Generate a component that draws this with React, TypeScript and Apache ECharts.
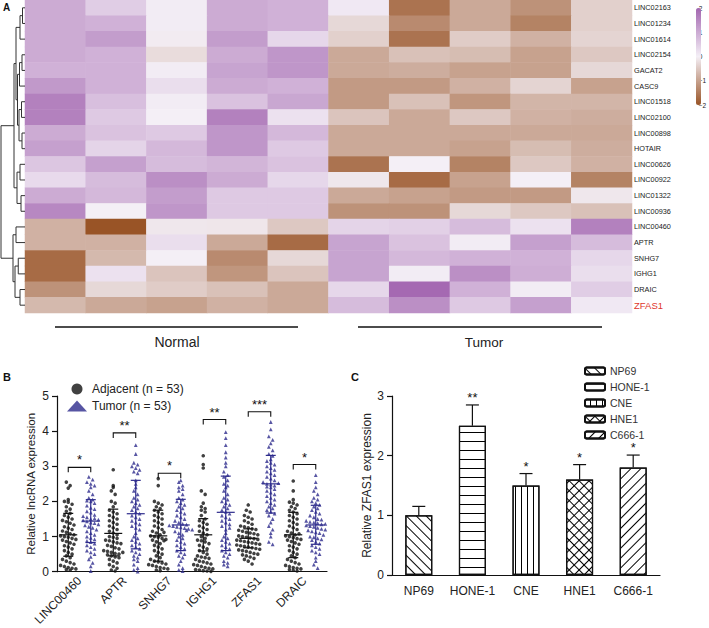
import React, { useEffect, useRef } from 'react';
import * as echarts from 'echarts';

// ---------- Panel A: heatmap ----------
const rowGenes = ['LINC02163', 'LINC01234', 'LINC01614', 'LINC02154', 'GACAT2', 'CASC9', 'LINC01518', 'LINC02100', 'LINC00898', 'HOTAIR', 'LINC00626', 'LINC00922', 'LINC01322', 'LINC00936', 'LINC00460', 'APTR', 'SNHG7', 'IGHG1', 'DRAIC', 'ZFAS1'];
const sampleCols = ['N1', 'N2', 'N3', 'N4', 'N5', 'T1', 'T2', 'T3', 'T4', 'T5'];
const heatValues = [
  [1.0, 0.5, 0.05, 1.0, 0.9, 0.1, -1.6, -0.9, -1.2, -0.4],
  [1.0, 0.9, 0.05, 1.0, 0.9, -0.3, -1.3, -0.9, -1.4, -0.4],
  [1.0, 1.2, -0.05, 1.2, 0.35, -0.4, -1.6, -0.45, -0.8, -0.35],
  [1.0, 0.9, -0.25, 1.0, 1.3, -0.9, -0.6, -0.65, -1.0, -0.5],
  [0.9, 0.9, 0.05, 1.1, 1.3, -0.9, -0.85, -1.0, -1.0, -0.3],
  [1.25, 0.9, 0.25, 1.0, 0.9, -1.1, -1.1, -0.8, -0.35, -1.0],
  [1.6, 0.7, 0.05, 0.65, 1.05, -1.1, -0.6, -1.15, -0.75, -0.75],
  [1.6, 0.55, 0.0, 1.6, 0.2, -0.55, -0.9, -0.5, -0.8, -0.85],
  [1.0, 0.65, 0.55, 1.3, 0.8, -0.9, -0.9, -0.9, -0.9, -0.9],
  [1.15, 0.4, 0.8, 1.3, 0.55, -0.9, -0.9, -1.0, -0.65, -0.85],
  [0.6, 1.15, 0.75, 0.85, 0.65, -1.6, 0.0, -1.4, -0.5, -0.8],
  [0.3, 0.75, 1.4, 1.0, 0.35, -0.1, -1.7, -1.0, 0.0, -1.4],
  [1.0, 0.8, 1.2, 0.55, 0.55, -0.9, -1.0, -1.1, -1.1, -0.1],
  [1.5, 0.0, 1.3, 0.55, 0.55, -1.2, -1.2, -0.3, -0.5, -0.6],
  [-0.8, -2.0, -0.1, -0.12, -0.5, 0.4, 0.45, 0.75, 0.2, 1.6],
  [-0.8, -0.8, 0.25, -0.9, -1.7, 1.1, 0.65, 0.05, 1.15, 0.75],
  [-1.7, -0.7, 0.0, -1.3, -0.3, 1.1, 0.8, 0.9, 0.9, 0.35],
  [-1.7, 0.2, -0.55, -1.15, -0.55, 1.1, 0.05, 1.4, 0.95, 0.25],
  [-1.2, -0.3, -0.45, -0.6, -0.9, 0.35, 1.95, 0.9, 0.05, 0.5],
  [-0.7, -0.9, -1.0, -0.8, -0.9, 0.75, 1.4, 0.55, 1.15, 0.1],
];
// dendrogram merges: [childA, childB, height]; leaves 0..19, merged nodes 20+
const dendroMerges = [
  [0, 1, 0.1], [20, 2, 0.2], [3, 4, 0.12], [22, 5, 0.22], [6, 7, 0.14], [8, 9, 0.12],
  [24, 25, 0.24], [23, 26, 0.3], [21, 27, 0.36], [10, 11, 0.2], [12, 13, 0.16], [29, 30, 0.32],
  [28, 31, 0.44], [14, 15, 0.36], [16, 17, 0.27], [18, 19, 0.2], [34, 35, 0.4], [33, 36, 0.48],
  [32, 37, 0.96],
];

// ---------- Panel B: dot plot ----------
const bGenes = ['LINC00460', 'APTR', 'SNHG7', 'IGHG1', 'ZFAS1', 'DRAIC'];
const adjLINC00460 = [2.55, 2.45, 2.38, 2.05, 2.0, 1.98, 1.92, 1.85, 1.78, 1.72, 1.66, 1.6, 1.55, 1.5, 1.46, 1.42, 1.38, 1.33, 1.28, 1.24, 1.2, 1.16, 1.12, 1.08, 1.05, 1.02, 1.0, 0.98, 0.95, 0.92, 0.9, 0.86, 0.82, 0.78, 0.74, 0.7, 0.65, 0.6, 0.55, 0.5, 0.45, 0.4, 0.35, 0.3, 0.26, 0.22, 0.18, 0.15, 0.12, 0.1, 0.08, 0.06, 0.04];
const tumLINC00460 = [2.7, 2.62, 2.55, 2.5, 2.45, 2.4, 2.3, 2.2, 2.1, 2.05, 2.02, 2.0, 1.95, 1.88, 1.82, 1.78, 1.72, 1.68, 1.62, 1.58, 1.55, 1.5, 1.46, 1.43, 1.4, 1.38, 1.35, 1.32, 1.28, 1.25, 1.2, 1.15, 1.1, 1.05, 1.0, 0.96, 0.92, 0.88, 0.84, 0.8, 0.75, 0.7, 0.65, 0.6, 0.55, 0.5, 0.42, 0.35, 0.25, 0.15, 1.52, 1.48, 0.02];
const adjAPTR = [2.9, 2.45, 2.4, 2.3, 2.2, 2.0, 1.95, 1.85, 1.75, 1.7, 1.65, 1.6, 1.55, 1.5, 1.45, 1.4, 1.35, 1.3, 1.25, 1.2, 1.15, 1.1, 1.05, 1.0, 0.98, 0.95, 0.9, 0.88, 0.85, 0.82, 0.8, 0.75, 0.72, 0.68, 0.65, 0.6, 0.58, 0.55, 0.52, 0.5, 0.48, 0.45, 0.42, 0.4, 0.35, 0.3, 0.25, 0.2, 0.15, 0.1, 0.05, 0.55, 0.02];
const tumAPTR = [3.6, 3.35, 3.1, 3.05, 3.0, 2.95, 2.9, 2.85, 2.8, 2.6, 2.5, 2.4, 2.3, 2.2, 2.1, 2.05, 2.0, 1.95, 1.9, 1.85, 1.8, 1.75, 1.7, 1.65, 1.6, 1.55, 1.5, 1.45, 1.4, 1.35, 1.3, 1.25, 1.2, 1.1, 1.0, 0.95, 0.9, 0.85, 0.8, 0.75, 0.7, 0.65, 0.6, 0.55, 0.5, 0.45, 0.4, 0.35, 0.3, 0.2, 0.1, 0.05, 0.0];
const adjSNHG7 = [2.65, 2.45, 2.0, 1.95, 1.9, 1.85, 1.8, 1.75, 1.7, 1.65, 1.6, 1.55, 1.5, 1.45, 1.4, 1.35, 1.3, 1.25, 1.2, 1.15, 1.1, 1.05, 1.02, 1.0, 0.98, 0.95, 0.92, 0.9, 0.85, 0.8, 0.75, 0.7, 0.65, 0.6, 0.55, 0.5, 0.45, 0.4, 0.35, 0.3, 0.28, 0.25, 0.22, 0.2, 0.18, 0.15, 0.12, 0.1, 0.08, 0.05, 0.03, 1.12, 0.88];
const tumSNHG7 = [2.6, 2.55, 2.45, 2.4, 2.35, 2.3, 2.2, 2.1, 2.05, 2.0, 1.95, 1.9, 1.85, 1.8, 1.75, 1.7, 1.65, 1.6, 1.55, 1.5, 1.45, 1.4, 1.36, 1.32, 1.3, 1.28, 1.26, 1.24, 1.22, 1.2, 1.15, 1.1, 1.05, 1.0, 0.95, 0.9, 0.85, 0.8, 0.75, 0.7, 0.65, 0.6, 0.55, 0.5, 0.45, 0.4, 0.3, 0.2, 0.1, 0.05, 1.34, 1.18, 0.02];
const adjIGHG1 = [3.3, 3.05, 2.95, 2.3, 2.2, 1.95, 1.85, 1.8, 1.75, 1.7, 1.6, 1.5, 1.45, 1.4, 1.35, 1.3, 1.25, 1.2, 1.15, 1.1, 1.05, 1.0, 0.95, 0.9, 0.88, 0.85, 0.8, 0.75, 0.7, 0.65, 0.6, 0.55, 0.5, 0.45, 0.42, 0.4, 0.38, 0.35, 0.3, 0.28, 0.25, 0.22, 0.2, 0.18, 0.15, 0.12, 0.1, 0.08, 0.06, 0.05, 0.03, 0.02, 0.01];
const tumIGHG1 = [3.97, 3.8, 3.6, 3.4, 3.25, 3.1, 3.0, 2.85, 2.75, 2.7, 2.6, 2.5, 2.45, 2.4, 2.3, 2.2, 2.1, 2.05, 2.0, 1.95, 1.9, 1.85, 1.8, 1.75, 1.7, 1.65, 1.6, 1.55, 1.5, 1.45, 1.4, 1.35, 1.3, 1.2, 1.1, 1.0, 0.95, 0.9, 0.85, 0.8, 0.75, 0.7, 0.65, 0.6, 0.55, 0.5, 0.45, 0.4, 0.3, 0.2, 0.15, 0.25, 1.25];
const adjZFAS1 = [1.9, 1.75, 1.7, 1.6, 1.55, 1.5, 1.45, 1.4, 1.35, 1.3, 1.28, 1.25, 1.22, 1.2, 1.18, 1.15, 1.12, 1.1, 1.08, 1.05, 1.02, 1.0, 0.98, 0.96, 0.94, 0.92, 0.9, 0.88, 0.86, 0.84, 0.82, 0.8, 0.78, 0.76, 0.74, 0.72, 0.7, 0.68, 0.66, 0.64, 0.62, 0.6, 0.58, 0.55, 0.52, 0.5, 0.48, 0.45, 0.42, 0.38, 0.35, 0.3, 0.22];
const tumZFAS1 = [4.26, 4.05, 3.85, 3.75, 3.65, 3.55, 3.45, 3.35, 3.3, 3.2, 3.15, 3.1, 3.05, 3.0, 2.95, 2.9, 2.85, 2.8, 2.75, 2.7, 2.65, 2.6, 2.55, 2.5, 2.48, 2.45, 2.42, 2.4, 2.35, 2.3, 2.25, 2.2, 2.15, 2.1, 2.05, 2.0, 1.95, 1.9, 1.85, 1.8, 1.75, 1.7, 1.65, 1.6, 1.5, 1.4, 1.3, 1.2, 1.1, 1.0, 0.85, 0.78, 2.52];
const adjDRAIC = [2.58, 2.3, 2.05, 1.98, 1.95, 1.9, 1.85, 1.8, 1.75, 1.7, 1.65, 1.6, 1.55, 1.5, 1.45, 1.4, 1.35, 1.3, 1.25, 1.2, 1.15, 1.1, 1.05, 1.02, 1.0, 0.97, 0.94, 0.9, 0.86, 0.82, 0.78, 0.74, 0.7, 0.65, 0.6, 0.55, 0.5, 0.45, 0.4, 0.35, 0.3, 0.26, 0.22, 0.18, 0.15, 0.12, 0.1, 0.08, 0.06, 0.04, 0.02, 1.08, 0.92];
const tumDRAIC = [2.75, 2.55, 2.4, 2.3, 2.2, 2.1, 2.05, 2.0, 1.95, 1.9, 1.85, 1.8, 1.75, 1.7, 1.65, 1.6, 1.55, 1.5, 1.48, 1.45, 1.42, 1.4, 1.38, 1.35, 1.32, 1.3, 1.28, 1.25, 1.22, 1.2, 1.18, 1.15, 1.12, 1.1, 1.05, 1.0, 0.98, 0.95, 0.92, 0.9, 0.85, 0.8, 0.75, 0.7, 0.65, 0.6, 0.55, 0.5, 0.4, 0.3, 0.2, 0.1, 1.36];
const adjacentGroups = [adjLINC00460, adjAPTR, adjSNHG7, adjIGHG1, adjZFAS1, adjDRAIC];
const tumorGroups = [tumLINC00460, tumAPTR, tumSNHG7, tumIGHG1, tumZFAS1, tumDRAIC];
const adjMean = [1.05, 1.09, 1.02, 1.05, 0.95, 1.05];
const adjLow = [0.44, 0.45, 0.3, 0.59, 0.68, 0.4];
const adjHigh = [1.66, 1.78, 1.75, 1.51, 1.22, 1.69];
const tumMean = [1.44, 1.65, 1.33, 1.69, 2.5, 1.33];
const tumLow = [0.83, 0.65, 0.6, 0.6, 1.67, 0.78];
const tumHigh = [2.05, 2.6, 2.06, 2.72, 3.31, 1.89];
const bracketY = [2.97, 3.95, 2.8, 4.33, 4.55, 3.05];
const bracketStars = ['*', '**', '*', '**', '***', '*'];

// ---------- Panel C: bar chart ----------
const cellLines = ['NP69', 'HONE-1', 'CNE', 'HNE1', 'C666-1'];
const zfasMean = [1.0, 2.5, 1.5, 1.6, 1.8];
const zfasSD = [0.15, 0.35, 0.2, 0.25, 0.21];
const zfasStars = ['', '**', '*', '*', '*'];

const FONT = "'Liberation Sans', Arial, Helvetica, sans-serif";
const NAVY = '#2d2b8c';

function swarm(values: number[], center: number): number[][] {
  const bins = new Map<number, number[]>();
  values.forEach((v) => {
    const b = Math.round(v / 0.14);
    if (!bins.has(b)) bins.set(b, []);
    bins.get(b)!.push(v);
  });
  const out: number[][] = [];
  bins.forEach((vals) => {
    vals.forEach((v, k) => out.push([center + (k - (vals.length - 1) / 2) * 0.085, v]));
  });
  return out;
}

function dendroSegments(): number[][] {
  const ys: number[] = rowGenes.map((_, i) => i + 0.5);
  const hs: number[] = rowGenes.map(() => 0);
  const segs: number[][] = [];
  dendroMerges.forEach(([a, b, h]) => {
    segs.push([hs[a], ys[a], h, ys[b], hs[b]]);
    ys.push((ys[a] + ys[b]) / 2);
    hs.push(h);
  });
  return segs;
}

const decals: any[] = [
  { symbol: 'rect', symbolSize: 1, color: '#000', dashArrayX: [1, 0], dashArrayY: [1, 6], rotation: Math.PI / 4 },
  { symbol: 'rect', symbolSize: 1, color: '#000', dashArrayX: [1, 0], dashArrayY: [1, 7.5], rotation: 0 },
  { symbol: 'rect', symbolSize: 1, color: '#000', dashArrayX: [1, 0], dashArrayY: [1, 4.5], rotation: Math.PI / 2 },
  { symbol: 'rect', symbolSize: 1, color: '#000', dashArrayX: [[1, 0], [1, 6]], dashArrayY: [1, 0, 6, 0], rotation: Math.PI / 4 },
  { symbol: 'rect', symbolSize: 1, color: '#000', dashArrayX: [1, 0], dashArrayY: [1, 6], rotation: -Math.PI / 4 },
];

export default function App() {
  const ref = useRef<HTMLDivElement>(null);
  useEffect(() => {
    if (!ref.current) return;
    const chart = echarts.init(ref.current, undefined, { renderer: 'svg' });

    const heatData: number[][] = [];
    heatValues.forEach((row, r) => row.forEach((v, c) => heatData.push([c, r, v])));

    const adjPts = bGenes.flatMap((_, i) => swarm(adjacentGroups[i], i + 0.25));
    const tumPts = bGenes.flatMap((_, i) => swarm(tumorGroups[i], i + 0.75));
    const statData = bGenes.flatMap((_, i) => [
      [i + 0.25, adjMean[i], adjLow[i], adjHigh[i], 0],
      [i + 0.75, tumMean[i], tumLow[i], tumHigh[i], 1],
    ]);
    const bracketData = bGenes.map((_, i) => [i, bracketY[i]]);

    const axisLineStyle = { lineStyle: { color: '#111', width: 1.2 } };

    const option: any = {
      animation: false,
      textStyle: { fontFamily: FONT },
      grid: [
        { left: 25, top: 0, width: 607, height: 313 },
        { left: 0, top: 0, width: 25, height: 313 },
        { left: 696, top: 8, width: 5, height: 97 },
        { left: 57, top: 396, width: 270, height: 180 },
        { left: 392, top: 396, width: 268, height: 179 },
      ],
      xAxis: [
        { type: 'category', gridIndex: 0, data: sampleCols, show: false },
        { type: 'value', gridIndex: 1, min: 0, max: 1, inverse: true, show: false },
        { type: 'value', gridIndex: 2, min: 0, max: 1, show: false },
        {
          type: 'category', gridIndex: 3, data: bGenes,
          axisLine: axisLineStyle,
          axisTick: { alignWithLabel: true, length: 5, lineStyle: { color: '#111', width: 1.2 } },
          axisLabel: { rotate: 45, fontSize: 12, color: '#222', margin: 7, interval: 0 },
        },
        { type: 'value', gridIndex: 3, min: 0, max: 6, show: false },
        {
          type: 'category', gridIndex: 4, data: cellLines,
          axisLine: axisLineStyle,
          axisTick: { alignWithLabel: true, length: 5, lineStyle: { color: '#111', width: 1.2 } },
          axisLabel: { fontSize: 12, color: '#222', margin: 10, interval: 0 },
        },
      ],
      yAxis: [
        {
          type: 'category', gridIndex: 0, data: rowGenes, inverse: true, position: 'right',
          axisLine: { show: false }, axisTick: { show: false },
          axisLabel: {
            fontSize: 7.3, color: '#222', margin: 2, interval: 0,
            formatter: (v: string) => (v === 'ZFAS1' ? `{r|${v}}` : v),
            rich: { r: { color: '#e0352b', fontSize: 9.5, fontFamily: FONT } },
          },
        },
        { type: 'value', gridIndex: 1, min: 0, max: 20, inverse: true, show: false },
        {
          type: 'value', gridIndex: 2, min: -2, max: 2, interval: 1, position: 'right',
          axisLine: { show: false }, axisTick: { show: false }, splitLine: { show: false },
          axisLabel: { fontSize: 6.5, color: '#222', margin: 1.5, formatter: (v: number) => (v < 0 ? '\u2212' + Math.abs(v) : String(v)) },
        },
        {
          type: 'value', gridIndex: 3, min: 0, max: 5, interval: 1,
          axisLine: { show: true, ...axisLineStyle },
          axisTick: { show: true, length: 5, lineStyle: { color: '#111', width: 1.2 } },
          splitLine: { show: false },
          axisLabel: { fontSize: 12, color: '#222', margin: 8 },
          name: 'Relative lncRNA expression', nameLocation: 'middle', nameGap: 20,
          nameTextStyle: { fontSize: 11.5, color: '#222' },
        },
        {
          type: 'value', gridIndex: 4, min: 0, max: 3, interval: 1,
          axisLine: { show: true, ...axisLineStyle },
          axisTick: { show: true, length: 5, lineStyle: { color: '#111', width: 1.2 } },
          splitLine: { show: false },
          axisLabel: { fontSize: 12, color: '#222', margin: 8 },
          name: 'Relative ZFAS1 expression', nameLocation: 'middle', nameGap: 18,
          nameTextStyle: { fontSize: 12, color: '#222' },
        },
      ],
      visualMap: {
        type: 'continuous', min: -2, max: 2, seriesIndex: 0, dimension: 2,
        left: 696, top: 8, itemWidth: 5, itemHeight: 97, padding: 0,
        text: ['', ''], showLabel: false, calculable: false, hoverLink: false,
        inRange: { color: ['#995426', '#f4eff6', '#a366b0'] },
      },
      legend: [
        {
          orient: 'vertical', left: 62, top: 378, itemWidth: 20, itemHeight: 11, itemGap: 5,
          data: ['Adjacent (n = 53)', 'Tumor (n = 53)'],
          textStyle: { fontSize: 12, color: '#222' }, selectedMode: false,
        },
        {
          orient: 'vertical', left: 579, top: 360, itemWidth: 20, itemHeight: 7, itemGap: 4,
          data: cellLines,
          textStyle: { fontSize: 10.5, color: '#333', lineHeight: 12 }, selectedMode: false,
        },
      ],
      series: [
        {
          type: 'heatmap', xAxisIndex: 0, yAxisIndex: 0, data: heatData,
          emphasis: { disabled: true }, itemStyle: { borderWidth: 0 },
        },
        {
          type: 'custom', xAxisIndex: 1, yAxisIndex: 1, data: dendroSegments(), silent: true,
          renderItem: (_p: any, api: any) => {
            const a = api.coord([api.value(0), api.value(1)]);
            const b = api.coord([api.value(2), api.value(1)]);
            const c = api.coord([api.value(2), api.value(3)]);
            const d = api.coord([api.value(4), api.value(3)]);
            return { type: 'polyline', shape: { points: [a, b, c, d] }, style: { stroke: '#333', fill: 'none', lineWidth: 1 } };
          },
        },
        {
          name: 'Adjacent (n = 53)', type: 'scatter', xAxisIndex: 4, yAxisIndex: 3, data: adjPts,
          symbol: 'circle', symbolSize: 3.6, itemStyle: { color: '#111' }, silent: true,
        },
        {
          name: 'Tumor (n = 53)', type: 'scatter', xAxisIndex: 4, yAxisIndex: 3, data: tumPts,
          symbol: 'triangle', symbolSize: 3.8, itemStyle: { color: NAVY }, silent: true,
        },
        {
          type: 'custom', xAxisIndex: 4, yAxisIndex: 3, data: statData, silent: true, z: 5,
          renderItem: (_p: any, api: any) => {
            const x = api.value(0);
            const pm = api.coord([x, api.value(1)]);
            const pl = api.coord([x, api.value(2)]);
            const ph = api.coord([x, api.value(3)]);
            const col = api.value(4) === 0 ? '#111' : NAVY;
            const st = { stroke: col, lineWidth: 1.2 };
            return {
              type: 'group', children: [
                { type: 'line', shape: { x1: pm[0] - 9, y1: pm[1], x2: pm[0] + 9, y2: pm[1] }, style: st },
                { type: 'line', shape: { x1: pl[0], y1: pl[1], x2: ph[0], y2: ph[1] }, style: st },
                { type: 'line', shape: { x1: pl[0] - 5, y1: pl[1], x2: pl[0] + 5, y2: pl[1] }, style: st },
                { type: 'line', shape: { x1: ph[0] - 5, y1: ph[1], x2: ph[0] + 5, y2: ph[1] }, style: st },
              ],
            };
          },
        },
        {
          type: 'custom', xAxisIndex: 4, yAxisIndex: 3, data: bracketData, silent: true, z: 5,
          renderItem: (p: any, api: any) => {
            const i = api.value(0);
            const y = api.value(1);
            const a = api.coord([i + 0.25, y]);
            const b = api.coord([i + 0.75, y]);
            const st = { stroke: '#111', lineWidth: 1.1, fill: 'none' };
            return {
              type: 'group', children: [
                { type: 'polyline', shape: { points: [[a[0], a[1] + 5], a, b, [b[0], b[1] + 5]] }, style: st },
                {
                  type: 'text', x: (a[0] + b[0]) / 2, y: a[1] - 1,
                  style: { text: bracketStars[p.dataIndex], fill: '#111', fontSize: 13, fontFamily: FONT, align: 'center', verticalAlign: 'bottom' },
                },
              ],
            };
          },
        },
        ...cellLines.map((name, i) => ({
          name, type: 'bar', xAxisIndex: 5, yAxisIndex: 4, barWidth: 27, barGap: '-100%', silent: true,
          data: cellLines.map((_, j) => (j === i ? zfasMean[i] : '-')),
          itemStyle: { color: '#fff', borderColor: '#111', borderWidth: 1.2, decal: decals[i] },
        })),
        {
          type: 'custom', xAxisIndex: 5, yAxisIndex: 4, silent: true, z: 5,
          data: cellLines.map((_, i) => [i, zfasMean[i], zfasMean[i] + zfasSD[i]]),
          renderItem: (p: any, api: any) => {
            const pm = api.coord([api.value(0), api.value(1)]);
            const ph = api.coord([api.value(0), api.value(2)]);
            const st = { stroke: '#111', lineWidth: 1.2 };
            return {
              type: 'group', children: [
                { type: 'line', shape: { x1: pm[0], y1: pm[1], x2: ph[0], y2: ph[1] }, style: st },
                { type: 'line', shape: { x1: ph[0] - 6.5, y1: ph[1], x2: ph[0] + 6.5, y2: ph[1] }, style: st },
                {
                  type: 'text', x: ph[0], y: ph[1] - 1,
                  style: { text: zfasStars[p.dataIndex], fill: '#111', fontSize: 13, fontFamily: FONT, align: 'center', verticalAlign: 'bottom' },
                },
              ],
            };
          },
        },
      ],
      graphic: [
        { type: 'text', left: 3, top: 2, style: { text: 'A', fontSize: 10, fontWeight: 'bold', fill: '#111', fontFamily: FONT } },
        { type: 'text', left: 3, top: 371, style: { text: 'B', fontSize: 11, fontWeight: 'bold', fill: '#111', fontFamily: FONT } },
        { type: 'text', left: 351, top: 371, style: { text: 'C', fontSize: 11, fontWeight: 'bold', fill: '#111', fontFamily: FONT } },
        { type: 'line', shape: { x1: 55, y1: 327, x2: 298, y2: 327 }, style: { stroke: '#111', lineWidth: 1.6 } },
        { type: 'line', shape: { x1: 358, y1: 327, x2: 602, y2: 327 }, style: { stroke: '#111', lineWidth: 1.6 } },
        { type: 'text', x: 177, y: 342, style: { text: 'Normal', fontSize: 14, fill: '#222', fontFamily: FONT, align: 'center', verticalAlign: 'middle' } },
        { type: 'text', x: 484, y: 342, style: { text: 'Tumor', fontSize: 13.5, fill: '#222', fontFamily: FONT, align: 'center', verticalAlign: 'middle' } },
      ],
    };
    chart.setOption(option);
    return () => chart.dispose();
  }, []);
  return <div ref={ref} style={{ position: 'fixed', left: 0, top: 0, width: 709, height: 628, background: '#fff' }} />;
}
